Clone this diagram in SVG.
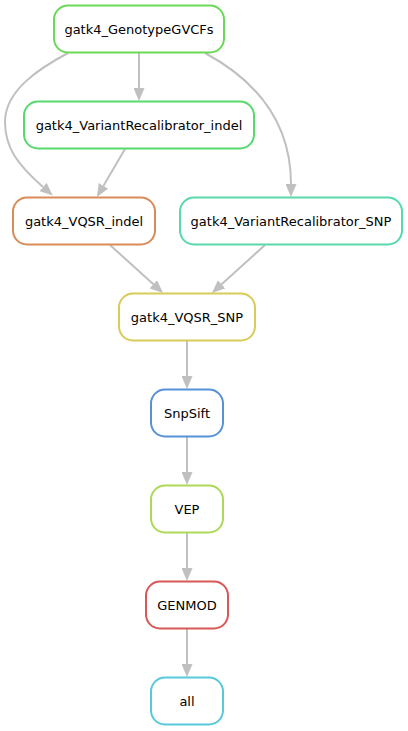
<svg xmlns="http://www.w3.org/2000/svg" width="408" height="731" viewBox="0 0 408 731">
<style>
.node rect{fill:#ffffff;stroke-width:2}
.node text{font-family:"DejaVu Sans","Noto Sans",sans-serif;font-size:13px;fill:#000000;text-anchor:middle}
.edges path{fill:none;stroke:#c0c0c0;stroke-width:2;marker-end:url(#arr)}
</style>
<defs>
<marker id="arr" markerUnits="userSpaceOnUse" viewBox="0 0 13 11" markerWidth="13" markerHeight="11" refX="0" refY="5.5" orient="auto">
<path d="M0,0 L13,5.5 L0,11 z" fill="#c0c0c0"/>
</marker>
</defs>
<rect width="408" height="731" fill="#ffffff"/>
<g id="edges" class="edges">
<path d="M139,53 L139,88"/>
<path d="M68,53 C40,68 5,90 5,122 C5,148 18,165 43,187"/>
<path d="M125,149 L103.5,185.8"/>
<path d="M205,53 C255,80 291,120 291,184"/>
<path d="M110,245 L153.4,284.3"/>
<path d="M265,245 L221.6,284.3"/>
<path d="M187,341 L187,376"/>
<path d="M187,437 L187,472"/>
<path d="M187,533 L187,568"/>
<path d="M187,629 L187,664"/>
</g>
<g id="node-gatk4_GenotypeGVCFs" class="node">
<rect x="54" y="5.5" width="170" height="47" rx="14" stroke="#6ad957"/>
<text x="139" y="33.5">gatk4_GenotypeGVCFs</text>
</g>
<g id="node-gatk4_VariantRecalibrator_indel" class="node">
<rect x="24" y="101.5" width="230" height="47" rx="14" stroke="#57d96e"/>
<text x="139" y="129.5">gatk4_VariantRecalibrator_indel</text>
</g>
<g id="node-gatk4_VQSR_indel" class="node">
<rect x="13" y="197.5" width="142" height="47" rx="14" stroke="#d98c57"/>
<text x="84" y="225.5">gatk4_VQSR_indel</text>
</g>
<g id="node-gatk4_VariantRecalibrator_SNP" class="node">
<rect x="180" y="197.5" width="222" height="47" rx="14" stroke="#57d9aa"/>
<text x="291" y="225.5">gatk4_VariantRecalibrator_SNP</text>
</g>
<g id="node-gatk4_VQSR_SNP" class="node">
<rect x="119" y="293.5" width="136" height="47" rx="14" stroke="#d9cb57"/>
<text x="187" y="321.5">gatk4_VQSR_SNP</text>
</g>
<g id="node-SnpSift" class="node">
<rect x="151" y="389.5" width="72" height="47" rx="14" stroke="#5792d9"/>
<text x="187" y="417.5">SnpSift</text>
</g>
<g id="node-VEP" class="node">
<rect x="151" y="485.5" width="72" height="47" rx="14" stroke="#acd957"/>
<text x="187" y="513.5">VEP</text>
</g>
<g id="node-GENMOD" class="node">
<rect x="146" y="581.5" width="82" height="47" rx="14" stroke="#d95757"/>
<text x="187" y="609.5">GENMOD</text>
</g>
<g id="node-all" class="node">
<rect x="151" y="677.5" width="72" height="47" rx="14" stroke="#57c9d9"/>
<text x="187" y="705.5">all</text>
</g>
</svg>
